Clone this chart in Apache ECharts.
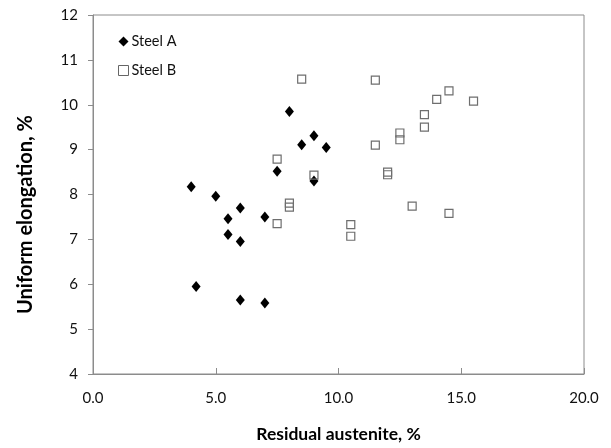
<!DOCTYPE html>
<html>
<head>
<meta charset="utf-8">
<script src="https://cdn.jsdelivr.net/npm/echarts@6/dist/echarts.min.js"></script>
<style>html,body{margin:0;padding:0;background:#fff}#c{width:611px;height:448px}</style>
</head>
<body>
<div id="c"></div>
<script>
const steelA_x = [4.0, 5.0, 6.0, 5.5, 7.0, 5.5, 6.0, 4.2, 6.0, 7.0, 7.5, 8.0, 8.5, 9.0, 9.5, 9.0];
const steelA_y = [8.17, 7.96, 7.70, 7.46, 7.50, 7.11, 6.95, 5.95, 5.65, 5.58, 8.52, 9.85, 9.11, 9.31, 9.05, 8.30];
const steelB_x = [8.5, 7.5, 9.0, 8.0, 8.0, 7.5, 11.5, 11.5, 12.5, 12.5, 13.5, 13.5, 14.0, 14.5, 15.5, 12.0, 12.0, 13.0, 14.5, 10.5, 10.5];
const steelB_y = [10.57, 8.79, 8.43, 7.81, 7.72, 7.35, 10.55, 9.10, 9.37, 9.22, 9.78, 9.50, 10.12, 10.31, 10.08, 8.50, 8.44, 7.74, 7.58, 7.33, 7.07];
const xTicks = ['0.0', '5.0', '10.0', '15.0', '20.0'];
const seriesNames = ['Steel A', 'Steel B'];
const xTitle = 'Residual austenite, %';
const yTitle = 'Uniform elongation, %';

const font = 'Lato, "Liberation Sans", sans-serif';
const chart = echarts.init(document.getElementById('c'), null, {renderer: 'canvas'});
const zip = (xs, ys) => xs.map((x, i) => [x, ys[i]]);
chart.setOption({
  animation: false,
  backgroundColor: '#fff',
  grid: {left: 93, right: 27, top: 15, bottom: 72, show: true, borderColor: '#8c8c8c', borderWidth: 1},
  legend: {
    left: 113, top: 29, orient: 'vertical', itemGap: 14, itemWidth: 10, itemHeight: 10,
    textStyle: {fontFamily: font, fontSize: 14.5, color: '#111', padding: [0, 0, 0, -2]},
    data: [{name: seriesNames[0], icon: 'diamond'}, {name: seriesNames[1], icon: 'rect', itemStyle: {color: '#fff', borderColor: '#666', borderWidth: 1}}]
  },
  xAxis: {
    type: 'value', min: 0, max: 20, interval: 5,
    axisLine: {show: true, lineStyle: {color: '#8c8c8c'}},
    axisTick: {show: true, inside: true, length: 6, lineStyle: {color: '#8c8c8c'}},
    splitLine: {show: false},
    axisLabel: {fontFamily: font, fontSize: 15, color: '#111', margin: 17, formatter: (v) => xTicks[Math.round(v / 5)]},
    name: xTitle, nameLocation: 'middle', nameGap: 51,
    nameTextStyle: {fontFamily: font, fontSize: 17.5, fontWeight: 'bold', color: '#000'}
  },
  yAxis: {
    type: 'value', min: 4, max: 12, interval: 1,
    axisLine: {show: true, lineStyle: {color: '#8c8c8c'}},
    axisTick: {show: true, length: 5, lineStyle: {color: '#8c8c8c'}},
    splitLine: {show: false},
    axisLabel: {fontFamily: font, fontSize: 15, color: '#111', margin: 15},
    name: yTitle, nameLocation: 'middle', nameGap: 57, nameRotate: 90,
    nameTextStyle: {fontFamily: font, fontSize: 20, fontWeight: 'bold', color: '#000', padding: [0, 40, 0, 0]}
  },
  series: [
    {name: seriesNames[0], type: 'scatter', symbol: 'diamond', symbolSize: [9, 11], itemStyle: {color: '#000', opacity: 1}, data: zip(steelA_x, steelA_y)},
    {name: seriesNames[1], type: 'scatter', symbol: 'rect', symbolSize: 8, itemStyle: {color: 'rgba(255,255,255,0)', borderColor: '#6e6e6e', borderWidth: 1.2, opacity: 1}, data: zip(steelB_x, steelB_y)}
  ]
});
</script>
</body>
</html>
